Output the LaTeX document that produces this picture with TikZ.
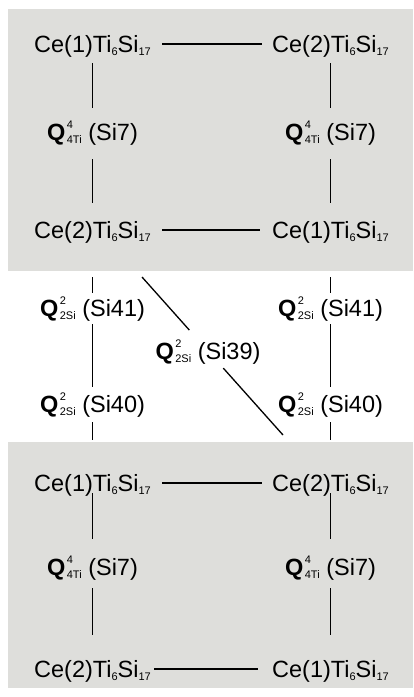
\documentclass[tikz,border=0pt]{standalone}
\usepackage{fontspec}
\setmainfont{Liberation Sans}
\definecolor{greybg}{RGB}{222,222,219}
\newcommand{\sbs}[1]{\raisebox{-2.5pt}{\fontsize{11}{11}\selectfont #1}}
\newcommand{\sps}[1]{\raisebox{12pt}{\fontsize{11}{11}\selectfont #1}}
\newcommand{\Qlab}[3]{\textbf{Q}\kern1.5pt\rlap{\sps{#1}}\sbs{#2} (#3)}
\newcommand{\Ce}[1]{Ce(#1)Ti\sbs{6}Si\sbs{17}}
\begin{document}
\begin{tikzpicture}[x=1pt,y=-1pt,
  lbl/.style={inner sep=0pt,text height=17pt,text depth=0pt,font=\fontsize{23.5}{26}\selectfont},
  link/.style={line width=1.3pt}]
\useasboundingbox (0,0) rectangle (413,697);
\fill[greybg] (8,9) rectangle (413,271);
\fill[greybg] (8,442) rectangle (413,688);
% top box
\node[lbl] (t11) at (92.5,44) {\Ce{1}};
\node[lbl] (t12) at (330.5,44) {\Ce{2}};
\node[lbl] (tq1) at (92.5,132) {\Qlab{4}{4Ti}{Si7}};
\node[lbl] (tq2) at (330.5,132) {\Qlab{4}{4Ti}{Si7}};
\node[lbl] (t21) at (92.5,230) {\Ce{2}};
\node[lbl] (t22) at (330.5,230) {\Ce{1}};
% middle
\node[lbl] (m41a) at (92.5,308) {\Qlab{2}{2Si}{Si41}};
\node[lbl] (m40a) at (92.5,404) {\Qlab{2}{2Si}{Si40}};
\node[lbl] (m41b) at (330.5,308) {\Qlab{2}{2Si}{Si41}};
\node[lbl] (m40b) at (330.5,404) {\Qlab{2}{2Si}{Si40}};
\node[lbl] (m39) at (208,351) {\Qlab{2}{2Si}{Si39}};
\coordinate (d1) at (142,277);
\coordinate (d2) at (283,435);
% bottom box
\node[lbl] (b11) at (92.5,483) {\Ce{1}};
\node[lbl] (b12) at (330.5,483) {\Ce{2}};
\node[lbl] (bq1) at (92.5,567) {\Qlab{4}{4Ti}{Si7}};
\node[lbl] (bq2) at (330.5,567) {\Qlab{4}{4Ti}{Si7}};
\node[lbl] (b21) at (92.5,669) {\Ce{2}};
\node[lbl] (b22) at (330.5,669) {\Ce{1}};
% horizontal links
\draw[link,shorten <=11pt,shorten >=10pt] (t11.east) -- (t12.west);
\draw[link,shorten <=11pt,shorten >=12pt] (t21.east) -- (t22.west);
\draw[link,shorten <=11pt,shorten >=10pt] (b11.east) -- (b12.west);
\draw[link,shorten <=3pt,shorten >=14pt] (b21.east) -- (b22.west);
% vertical links in boxes
\foreach \c in {1,2}{
  \draw[link,shorten <=10.5pt,shorten >=15.5pt] (t1\c.south) -- (tq\c.north);
  \draw[link,shorten <=18.5pt,shorten >=18.5pt] (tq\c.south) -- (t2\c.north);
  \draw[link,shorten <=1.5pt,shorten >=19.5pt] (b1\c.south) -- (bq\c.north);
  \draw[link,shorten <=12.5pt,shorten >=25.5pt] (bq\c.south) -- (b2\c.north);
}
% middle verticals
\draw[link,shorten <=47pt,shorten >=15pt] (t21.center) -- (m41a.center);
\draw[link,shorten <=16pt,shorten >=17pt] (m41a.center) -- (m40a.center);
\draw[link,shorten <=18pt,shorten >=43pt] (m40a.center) -- (b11.center);
\draw[link,shorten <=47pt,shorten >=15pt] (t22.center) -- (m41b.center);
\draw[link,shorten <=16pt,shorten >=17pt] (m41b.center) -- (m40b.center);
\draw[link,shorten <=18pt,shorten >=43pt] (m40b.center) -- (b12.center);
% diagonal
\draw[link,shorten >=28pt] (d1) -- (m39.center);
\draw[link,shorten <=23pt] (m39.center) -- (d2);
\end{tikzpicture}
\end{document}
